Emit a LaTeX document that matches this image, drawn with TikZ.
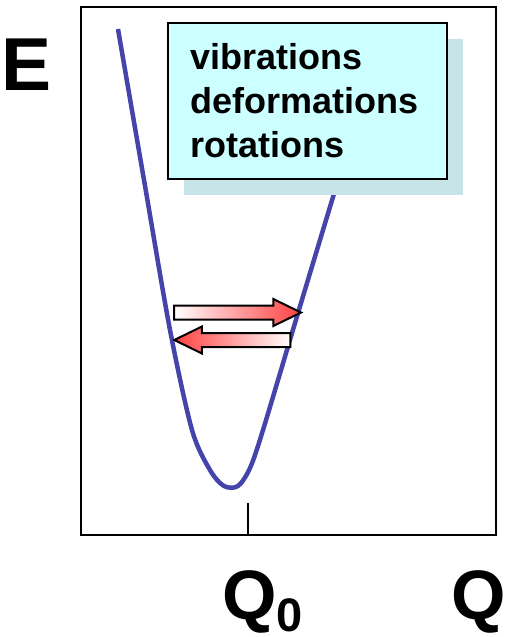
\documentclass[tikz,border=0pt]{standalone}
\usepackage{fontspec}
\setmainfont{Liberation Sans}
\usepackage{xcolor}
\usetikzlibrary{shapes.arrows, shadows}

\definecolor{wellblue}{RGB}{68,68,170}
\definecolor{boxcyan}{RGB}{204,255,255}
\definecolor{boxshade}{RGB}{198,228,232}
\definecolor{arrowred}{RGB}{255,64,64}

\begin{document}
\begin{tikzpicture}[
    x=1pt, y=-1pt,
    axislabel/.style={
        font=\fontsize{70}{70}\selectfont\bfseries,
        inner sep=0pt,
        anchor=base west
    },
    modebox/.style={
        rectangle,
        draw=black,
        line width=1.5pt,
        fill=boxcyan,
        anchor=north west,
        align=left,
        text width=233pt,
        inner xsep=23pt,
        minimum width=279pt,
        minimum height=156pt,
        font=\fontsize{36}{44}\selectfont\bfseries,
        drop shadow={shadow xshift=16pt, shadow yshift=-16pt, fill=boxshade, opacity=1}
    },
    swingarrow/.style={
        single arrow,
        draw=black,
        line width=2pt,
        inner xsep=0pt,
        inner ysep=6pt,
        single arrow head extend=6.5pt,
        single arrow tip angle=52
    }
]
\useasboundingbox (0,0) rectangle (506,637);

% axes frame and tick at the minimum
\draw[line width=2.5pt] (81,7) rectangle (496,535);
\draw[line width=2pt] (248,503) -- (248,535);

% potential well
\draw[wellblue, line width=4.5pt, line join=round]
    plot[smooth, tension=0.5] coordinates {
        (118,29) (144,180) (170,330) (192,430) (210,470) (224,486)
        (238,486) (250,468) (263,430) (298,313) (333,197) (346,155)
    };

\node[modebox] (modes) at (167,22) {vibrations\\deformations\\rotations};

\node[swingarrow, anchor=tail, minimum height=127pt,
      left color=white, right color=arrowred]
    (swingright) at (173,312.5) {};
\node[swingarrow, anchor=tip, shape border rotate=180, minimum height=116pt,
      left color=arrowred, right color=white]
    (swingleft) at (172,340) {};

\node[axislabel, font=\fontsize{75}{75}\selectfont\bfseries] (energy) at (1.5,90) {E};
\node[axislabel] (qzero) at (222,619) {Q\raisebox{-12pt}{\fontsize{47}{47}\selectfont 0}};
\node[axislabel] (coord) at (451,619) {Q};

\end{tikzpicture}
\end{document}
